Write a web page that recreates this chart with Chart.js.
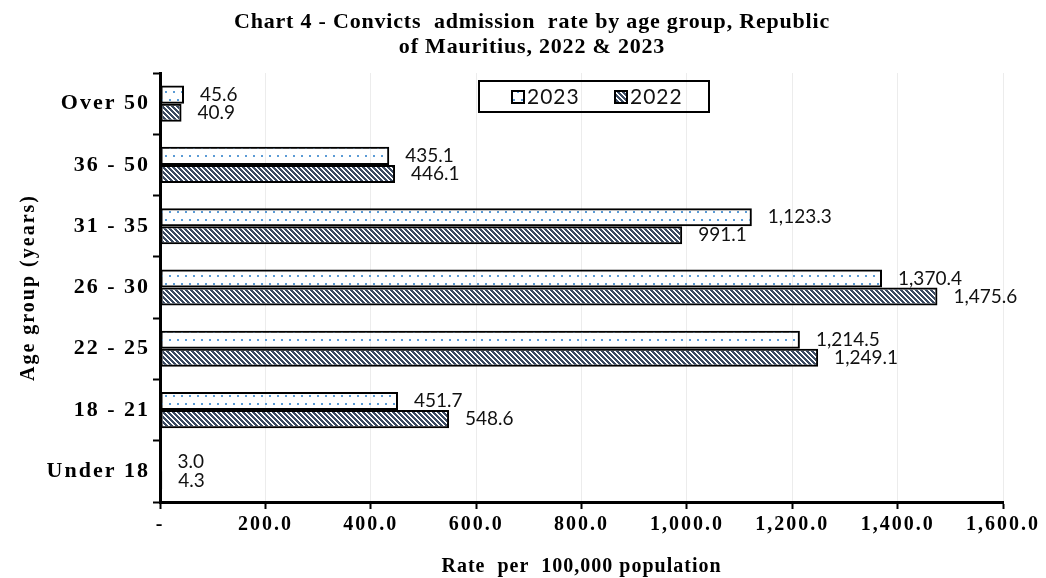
<!DOCTYPE html>
<html><head><meta charset="utf-8">
<script src="https://cdn.jsdelivr.net/npm/chart.js@4.4.1/dist/chart.umd.min.js"></script>
<style>html,body{margin:0;padding:0;background:#fff;} #wrap{width:1046px;height:578px;} canvas{display:block;}</style>
</head><body><div id="wrap"><canvas id="c" width="1046" height="578"></canvas></div>
<script>
const categories = ['Over 50','36 - 50','31 - 35','26 - 30','22 - 25','18 - 21','Under 18'];
const rate2023 = [45.6, 435.1, 1123.3, 1370.4, 1214.5, 451.7, 3.0];
const rate2022 = [40.9, 446.1, 991.1, 1475.6, 1249.1, 548.6, 4.3];
const seriesNames = ['2023', '2022'];
const xTicks = [0, 200, 400, 600, 800, 1000, 1200, 1400, 1600];
const titleLines = ['Chart 4 - Convicts  admission  rate by age group, Republic', 'of Mauritius, 2022 & 2023'];
const xTitle = 'Rate  per  100,000 population';
const yTitle = 'Age group (years)';

const SERIF = '"Liberation Serif", "Times New Roman", serif';
const SANS = 'Lato, "Open Sans", sans-serif';
const canvas = document.getElementById('c');
const ctx0 = canvas.getContext('2d');

function dotPattern() {
  const c = document.createElement('canvas'); c.width = 8; c.height = 16;
  const g = c.getContext('2d');
  g.fillStyle = '#5b9bd5';
  g.fillRect(1, 3, 2, 2); g.fillRect(5, 11, 2, 2);
  return ctx0.createPattern(c, 'repeat');
}
function stripePattern() {
  const n = 5;
  const c = document.createElement('canvas'); c.width = n; c.height = n;
  const g = c.getContext('2d');
  const img = g.createImageData(n, n);
  for (let y = 0; y < n; y++) for (let x = 0; x < n; x++) {
    const k = (((x - y) % n) + n) % n;
    const i = (y * n + x) * 4;
    if (k < 3) { img.data[i] = 60; img.data[i+1] = 75; img.data[i+2] = 98; img.data[i+3] = 255; }
  }
  g.putImageData(img, 0, 0);
  return ctx0.createPattern(c, 'repeat');
}
const pat2023 = dotPattern();
const pat2022 = stripePattern();

function fmt(v) { return v.toLocaleString('en-US', {minimumFractionDigits: 1, maximumFractionDigits: 1}); }

const spacingPlugin = {
  id: 'spacing',
  beforeLayout(chart) { chart.ctx.letterSpacing = '2px'; },
  beforeDraw(chart) { chart.ctx.letterSpacing = '2px'; }
};

const extrasPlugin = {
  id: 'extras',
  afterDatasetsDraw(chart) {
    const ctx = chart.ctx;
    ctx.save();
    ctx.letterSpacing = '0px';
    ctx.font = '19px ' + SANS;
    ctx.fillStyle = '#111';
    ctx.textAlign = 'left';
    ctx.textBaseline = 'middle';
    chart.data.datasets.forEach((ds, di) => {
      const meta = chart.getDatasetMeta(di);
      meta.data.forEach((bar, i) => {
        ctx.fillText(fmt(ds.data[i]), bar.x + 16, bar.y);
      });
    });
    ctx.restore();
  },
  afterDraw(chart) {
    const ctx = chart.ctx;
    ctx.save();
    // title
    ctx.letterSpacing = '0.8px';
    ctx.font = 'bold 22px ' + SERIF;
    ctx.fillStyle = '#000';
    ctx.textAlign = 'center';
    ctx.textBaseline = 'middle';
    ctx.fillText(titleLines[0], 532, 22);
    ctx.fillText(titleLines[1], 532, 47);
    // x axis title
    ctx.letterSpacing = '1px';
    ctx.font = 'bold 20px ' + SERIF;
    ctx.fillText(xTitle, (chart.chartArea.left + chart.chartArea.right) / 2, 567);
    // legend
    ctx.letterSpacing = '1px';
    ctx.lineWidth = 2;
    ctx.strokeStyle = '#000';
    ctx.strokeRect(479, 81, 230, 31);
    const items = [{x: 512, p: pat2023, t: seriesNames[0]}, {x: 615, p: pat2022, t: seriesNames[1]}];
    ctx.font = '21px ' + SANS;
    ctx.textAlign = 'left';
    items.forEach(it => {
      ctx.fillStyle = '#fff';
      ctx.fillRect(it.x, 91, 12, 12);
      ctx.fillStyle = it.p;
      ctx.fillRect(it.x, 91, 12, 12);
      ctx.strokeRect(it.x, 91, 12, 12);
      ctx.fillStyle = '#111';
      ctx.fillText(it.t, it.x + 15, 97);
    });
    ctx.restore();
  }
};

new Chart(canvas, {
  type: 'bar',
  data: {
    labels: categories,
    datasets: [
      {label: seriesNames[0], data: rate2023, backgroundColor: pat2023, borderColor: '#000', borderWidth: 2, borderSkipped: false},
      {label: seriesNames[1], data: rate2022, backgroundColor: pat2022, borderColor: '#000', borderWidth: 2, borderSkipped: false}
    ]
  },
  options: {
    indexAxis: 'y',
    responsive: false,
    animation: false,
    categoryPercentage: 0.59,
    barPercentage: 1.0,
    layout: {padding: {top: 73, right: 43, left: 0, bottom: 0}},
    plugins: {legend: {display: false}, tooltip: {enabled: false}, title: {display: false}},
    scales: {
      x: {
        min: 0, max: 1600,
        afterBuildTicks: s => { s.ticks = xTicks.map(v => ({value: v})); },
        afterFit: s => { s.height = 76; },
        grid: {color: '#ececec', lineWidth: 1, tickColor: '#000', tickWidth: 2, tickLength: 7, drawTicks: true},
        border: {color: '#000', width: 3},
        ticks: {
          padding: 4, color: '#000', maxRotation: 0, autoSkip: false,
          font: {family: SERIF, size: 20, weight: 'bold'},
          callback: v => v === 0 ? '-' : fmt(v)
        },
        title: {display: false}
      },
      y: {
        afterFit: s => { s.width = 160; },
        grid: {offset: true, drawOnChartArea: false, tickColor: '#000', tickWidth: 2, tickLength: 7},
        border: {color: '#000', width: 3},
        ticks: {padding: 3, color: '#000', autoSkip: false, font: {family: SERIF, size: 22, weight: 'bold'}},
        title: {display: true, text: yTitle, color: '#000', padding: {top: 17, bottom: 0},
          font: {family: SERIF, size: 20, weight: 'bold'}}
      }
    }
  },
  plugins: [spacingPlugin, extrasPlugin]
});
</script>
</body></html>
